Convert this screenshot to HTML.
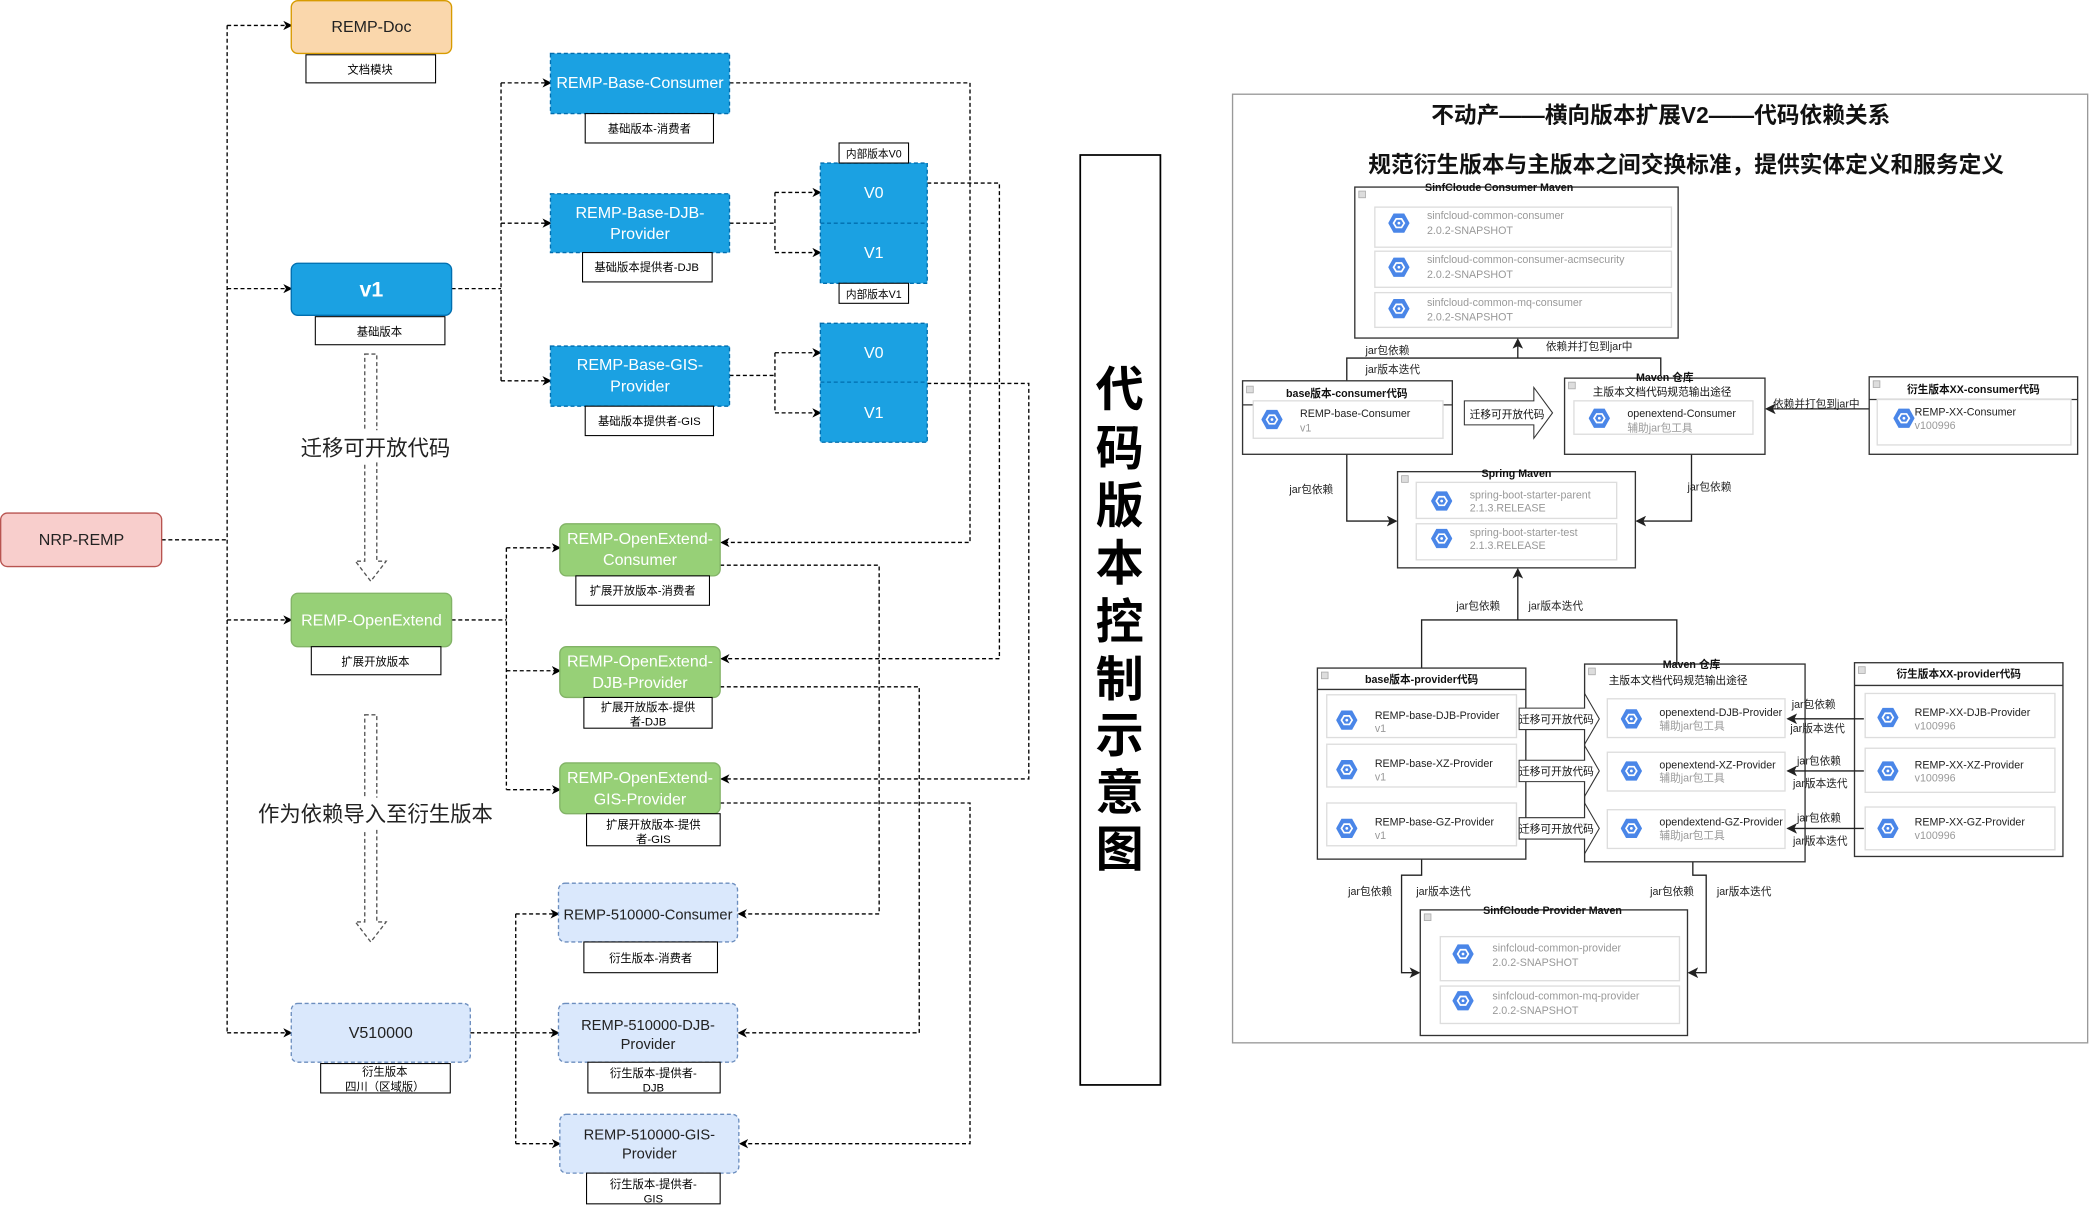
<!DOCTYPE html>
<html><head><meta charset="utf-8"><style>
html,body{margin:0;padding:0;background:#fff;width:2095px;height:1206px;overflow:hidden}
svg{display:block}
text{font-family:"Liberation Sans","Noto Sans CJK SC",sans-serif}
</style></head><body>
<svg width="2095" height="1206" viewBox="0 0 1568 902.6" xmlns="http://www.w3.org/2000/svg">
<defs>
<marker id="a" markerUnits="userSpaceOnUse" markerWidth="7" markerHeight="7" refX="6" refY="3.5" orient="auto"><path d="M0,0 L7,3.5 L0,7 L2,3.5z" fill="#000"/></marker>
<marker id="s" markerUnits="userSpaceOnUse" markerWidth="8" markerHeight="8" refX="7" refY="4" orient="auto"><path d="M0,0 L8,4 L0,8 L2,4z" fill="#222"/></marker>
<symbol id="hx" viewBox="0 0 20 20"><polygon points="5,1 15,1 20,10 15,19 5,19 0,10" fill="#4a86e8"/><polygon points="7.5,6 12.5,6 15,10 12.5,14 7.5,14 5,10" fill="none" stroke="#fff" stroke-width="1.6"/><circle cx="10" cy="10" r="1.3" fill="#fff"/></symbol>
</defs>

<!-- LEFT connectors -->
<g fill="none" stroke="#000" stroke-width="1" stroke-dasharray="3 2">
<path d="M121,404 H170"/><path d="M170,19 V773"/>
<path d="M170,19 H218" marker-end="url(#a)"/><path d="M170,216 H218" marker-end="url(#a)"/><path d="M170,464 H218" marker-end="url(#a)"/><path d="M170,773 H218" marker-end="url(#a)"/>
<path d="M338,216 H375"/><path d="M375,62 V285"/>
<path d="M375,62 H412" marker-end="url(#a)"/><path d="M375,167 H412" marker-end="url(#a)"/><path d="M375,285 H412" marker-end="url(#a)"/>
<path d="M546,167 H580"/><path d="M580,144 V189"/><path d="M580,144 H614" marker-end="url(#a)"/><path d="M580,189 H614" marker-end="url(#a)"/>
<path d="M546,281 H580"/><path d="M580,264 V309"/><path d="M580,264 H614" marker-end="url(#a)"/><path d="M580,309 H614" marker-end="url(#a)"/>
<path d="M546,62 H726 V406 H540" marker-end="url(#a)"/>
<path d="M694,137 H748 V493 H540" marker-end="url(#a)"/>
<path d="M694,287 H770 V583 H540" marker-end="url(#a)"/>
<path d="M338,464 H379"/><path d="M379,410 V591"/>
<path d="M379,410 H419" marker-end="url(#a)"/><path d="M379,502 H419" marker-end="url(#a)"/><path d="M379,591 H419" marker-end="url(#a)"/>
<path d="M539,423 H658 V684 H553" marker-end="url(#a)"/>
<path d="M539,514 H688 V773 H553" marker-end="url(#a)"/>
<path d="M539,601 H726 V856 H554" marker-end="url(#a)"/>
<path d="M352,773 H386"/><path d="M386,684 V856"/>
<path d="M386,684 H418" marker-end="url(#a)"/><path d="M386,773 H418" marker-end="url(#a)"/><path d="M386,856 H419" marker-end="url(#a)"/>
<path d="M273,265 H282 V420 H289 L277.5,435 L266,420 H273 Z" stroke="#555"/>
<path d="M273,535 H282 V690 H289 L277.5,705 L266,690 H273 Z" stroke="#555"/>
</g>

<!-- LEFT nodes -->
<g font-size="12" text-anchor="middle">
<rect x="218" y="0.5" width="120" height="39.5" rx="5" fill="#fad7ac" stroke="#d79b00"/><text x="278" y="24" fill="#222">REMP-Doc</text>
<rect x="218" y="197" width="120" height="39" rx="5" fill="#1ba1e2" stroke="#006eaf"/><text x="278" y="222" fill="#fff" font-size="16" font-weight="bold">v1</text>
<rect x="0.5" y="384" width="120.5" height="40" rx="5" fill="#f8cecc" stroke="#b85450"/><text x="61" y="408" fill="#222">NRP-REMP</text>
<rect x="218" y="444" width="120" height="40" rx="5" fill="#97d077" stroke="#82b366"/><text x="278" y="468" fill="#fff">REMP-OpenExtend</text>
<rect x="218" y="751" width="134" height="44" rx="5" fill="#dae8fc" stroke="#6c8ebf" stroke-dasharray="3 2"/><text x="285" y="777" fill="#222">V510000</text>

<rect x="412" y="40" width="134" height="45" fill="#1ba1e2" stroke="#006eaf" stroke-dasharray="3 2"/><text x="479" y="66" fill="#fff">REMP-Base-Consumer</text>
<rect x="412" y="145" width="134" height="44" fill="#1ba1e2" stroke="#006eaf" stroke-dasharray="3 2"/><text x="479" y="163" fill="#fff">REMP-Base-DJB-</text><text x="479" y="179" fill="#fff">Provider</text>
<rect x="412" y="259" width="134" height="45" fill="#1ba1e2" stroke="#006eaf" stroke-dasharray="3 2"/><text x="479" y="277" fill="#fff">REMP-Base-GIS-</text><text x="479" y="293" fill="#fff">Provider</text>

<rect x="614" y="122" width="80" height="90" fill="#1ba1e2" stroke="#006eaf" stroke-dasharray="3 2"/><line x1="614" y1="167" x2="694" y2="167" stroke="#006eaf" stroke-dasharray="3 2"/>
<text x="654" y="148" fill="#fff">V0</text><text x="654" y="193" fill="#fff">V1</text>
<rect x="614" y="242" width="80" height="89" fill="#1ba1e2" stroke="#006eaf" stroke-dasharray="3 2"/><line x1="614" y1="286" x2="694" y2="286" stroke="#006eaf" stroke-dasharray="3 2"/>
<text x="654" y="268" fill="#fff">V0</text><text x="654" y="313" fill="#fff">V1</text>

<rect x="419" y="392" width="120" height="39" rx="5" fill="#97d077" stroke="#82b366"/><text x="479" y="407" fill="#fff">REMP-OpenExtend-</text><text x="479" y="423" fill="#fff">Consumer</text>
<rect x="419" y="484" width="120" height="38" rx="5" fill="#97d077" stroke="#82b366"/><text x="479" y="499" fill="#fff">REMP-OpenExtend-</text><text x="479" y="515" fill="#fff">DJB-Provider</text>
<rect x="419" y="571" width="120" height="38" rx="5" fill="#97d077" stroke="#82b366"/><text x="479" y="586" fill="#fff">REMP-OpenExtend-</text><text x="479" y="602" fill="#fff">GIS-Provider</text>

<g font-size="11">
<rect x="418" y="661" width="134" height="44" rx="5" fill="#dae8fc" stroke="#6c8ebf" stroke-dasharray="3 2"/><text x="485" y="688" fill="#222">REMP-510000-Consumer</text>
<rect x="418" y="751" width="134" height="44" rx="5" fill="#dae8fc" stroke="#6c8ebf" stroke-dasharray="3 2"/><text x="485" y="771" fill="#222">REMP-510000-DJB-</text><text x="485" y="785" fill="#222">Provider</text>
<rect x="419" y="834" width="134" height="44" rx="5" fill="#dae8fc" stroke="#6c8ebf" stroke-dasharray="3 2"/><text x="486" y="853" fill="#222">REMP-510000-GIS-</text><text x="486" y="867" fill="#222">Provider</text>
</g>
</g>

<!-- LEFT label boxes -->
<g font-size="8.5" text-anchor="middle" fill="#000">
<g fill="#fff" stroke="#000" stroke-width="0.8">
<rect x="229" y="41" width="97" height="21"/><rect x="236" y="237" width="97" height="21"/><rect x="233" y="484" width="97" height="21"/><rect x="240" y="796" width="97" height="22"/>
<rect x="438" y="85" width="96" height="22"/><rect x="436" y="189" width="97" height="22"/><rect x="438" y="304" width="96" height="22"/>
<rect x="628" y="107" width="52" height="15"/><rect x="628" y="212" width="52" height="15"/>
<rect x="431" y="431" width="100" height="22"/><rect x="437" y="522" width="96" height="23"/><rect x="439" y="609" width="100" height="24"/>
<rect x="437" y="705" width="100" height="23"/><rect x="440" y="795" width="99" height="23"/><rect x="439" y="878" width="100" height="23"/>
</g>
<text x="277" y="55">文档模块</text><text x="284" y="251">基础版本</text><text x="281" y="498">扩展开放版本</text>
<text x="288" y="805">衍生版本</text><text x="288" y="816">四川（区域版）</text>
<text x="486" y="99">基础版本-消费者</text><text x="484" y="203">基础版本提供者-DJB</text><text x="486" y="318">基础版本提供者-GIS</text>
<text x="654" y="118" font-size="8">内部版本V0</text><text x="654" y="223" font-size="8">内部版本V1</text>
<text x="481" y="445">扩展开放版本-消费者</text>
<text x="485" y="532">扩展开放版本-提供</text><text x="485" y="543">者-DJB</text>
<text x="489" y="620">扩展开放版本-提供</text><text x="489" y="631">者-GIS</text>
<text x="487" y="720">衍生版本-消费者</text>
<text x="489" y="806">衍生版本-提供者-</text><text x="489" y="817">DJB</text>
<text x="489" y="889">衍生版本-提供者-</text><text x="489" y="900">GIS</text>
</g>

<rect x="222" y="322" width="118" height="24" fill="#fff"/><text x="281" y="341" font-size="16" text-anchor="middle" fill="#222">迁移可开放代码</text>
<rect x="188" y="597" width="186" height="24" fill="#fff"/><text x="281" y="615" font-size="16" text-anchor="middle" fill="#222">作为依赖导入至衍生版本</text>

<!-- vertical title -->
<rect x="808.5" y="116" width="60" height="696" fill="#fff" stroke="#000" stroke-width="1.3"/>
<g font-size="36" font-weight="bold" text-anchor="middle" fill="#000">
<text x="838" y="304">代</text><text x="838" y="348">码</text><text x="838" y="391">版</text><text x="838" y="434">本</text><text x="838" y="478">控</text><text x="838" y="521">制</text><text x="838" y="563">示</text><text x="838" y="606">意</text><text x="838" y="648">图</text>
</g>

<!-- RIGHT screenshot -->
<rect x="922.5" y="70.5" width="640" height="710" fill="#fff" stroke="#999"/>
<g font-weight="bold" text-anchor="middle" fill="#111">
<text x="1243" y="92" font-size="17">不动产——横向版本扩展V2——代码依赖关系</text>
<text x="1262" y="129" font-size="17">规范衍生版本与主版本之间交换标准，提供实体定义和服务定义</text>
</g>

<!-- right connectors -->
<g fill="none" stroke="#222" stroke-width="1">
<path d="M1008,285 V268 H1243 V281"/><path d="M1136,268 V254" marker-end="url(#s)"/>
<path d="M1399,306 H1322" marker-end="url(#s)"/>
<path d="M1008,340 V390 H1045" marker-end="url(#s)"/>
<path d="M1266,340 V390 H1225" marker-end="url(#s)"/>
<path d="M1064,500 V464 H1255 V497"/><path d="M1136,464 V426" marker-end="url(#s)"/>
<path d="M1064,643 V655 H1049 V728 H1062" marker-end="url(#s)"/>
<path d="M1267,645 V655 H1277 V728 H1264" marker-end="url(#s)"/>
</g>

<!-- right boxes -->
<g fill="#fff" stroke="#333" stroke-width="1">
<rect x="1014" y="140" width="242" height="113"/>
<rect x="930" y="285" width="157" height="55"/><line x1="930" y1="303" x2="1087" y2="303"/>
<rect x="1171" y="283" width="150" height="57"/>
<rect x="1399" y="282" width="156" height="58"/><line x1="1399" y1="299" x2="1555" y2="299"/>
<rect x="1046" y="353" width="178" height="72"/>
<rect x="986" y="500" width="156" height="143"/><line x1="986" y1="516" x2="1142" y2="516"/>
<rect x="1186" y="497" width="165" height="148"/>
<rect x="1388" y="496" width="156" height="145"/><line x1="1388" y1="513" x2="1544" y2="513"/>
<rect x="1063" y="681" width="200" height="94"/>
</g>
<g fill="none" stroke="#222" stroke-width="1">
<path d="M1395,538 H1338" marker-end="url(#s)"/><path d="M1395,577 H1338" marker-end="url(#s)"/><path d="M1395,620 H1338" marker-end="url(#s)"/>
</g>
<g fill="#ddd" stroke="#aaa" stroke-width="0.6">
<rect x="1017" y="143" width="5" height="5"/><rect x="933" y="289" width="5" height="5"/><rect x="1174" y="286" width="5" height="5"/><rect x="1402" y="285" width="5" height="5"/><rect x="1049" y="356" width="5" height="5"/><rect x="989" y="503" width="5" height="5"/><rect x="1189" y="500" width="5" height="5"/><rect x="1391" y="499" width="5" height="5"/><rect x="1066" y="684" width="5" height="5"/>
</g>
<g font-size="8" font-weight="bold" text-anchor="middle" fill="#111">
<text x="1122" y="143">SinfCloude Consumer Maven</text>
<text x="1008" y="297">base版本-consumer代码</text>
<text x="1246" y="285">Maven 仓库</text><text x="1244" y="296" font-weight="normal">主版本文档代码规范输出途径</text>
<text x="1477" y="294">衍生版本XX-consumer代码</text>
<text x="1135" y="357">Spring Maven</text>
<text x="1064" y="511">base版本-provider代码</text>
<text x="1266" y="500">Maven 仓库</text><text x="1256" y="512" font-weight="normal">主版本文档代码规范输出途径</text>
<text x="1466" y="507">衍生版本XX-provider代码</text>
<text x="1162" y="684">SinfCloude Provider Maven</text>
</g>

<!-- hollow migrate arrows -->
<g fill="#fff" stroke="#333" stroke-width="0.8">
<path d="M1096,300 H1148 V290 L1162,309 L1148,328 V318 H1096 Z"/>
<path d="M1137,530 H1186 V519 L1197,538 L1186,557 V546 H1137 Z"/>
<path d="M1137,569 H1186 V558 L1197,577 L1186,596 V585 H1137 Z"/>
<path d="M1137,612 H1186 V601 L1197,620 L1186,639 V628 H1137 Z"/>
</g>
<g font-size="8" fill="#111">
<text x="1100" y="313">迁移可开放代码</text>
<text x="1137" y="541">迁移可开放代码</text><text x="1137" y="580">迁移可开放代码</text><text x="1137" y="623">迁移可开放代码</text>
</g>

<!-- items -->
<g fill="#fff" stroke="#ddd" stroke-width="1">
<rect x="1029" y="155" width="222" height="30"/><rect x="1029" y="188" width="222" height="27"/><rect x="1029" y="219" width="222" height="26"/>
<rect x="938" y="300" width="142" height="28"/><rect x="1178" y="300" width="134" height="25"/><rect x="1405" y="299" width="145" height="34"/>
<rect x="1060" y="361" width="150" height="27"/><rect x="1060" y="392" width="150" height="27"/>
<rect x="993" y="520" width="142" height="32"/><rect x="993" y="557" width="142" height="32"/><rect x="993" y="601" width="142" height="32"/>
<rect x="1203" y="523" width="133" height="29"/><rect x="1203" y="563" width="133" height="29"/><rect x="1203" y="606" width="133" height="29"/>
<rect x="1396" y="519" width="142" height="33"/><rect x="1396" y="560" width="142" height="33"/><rect x="1396" y="604" width="142" height="32"/>
<rect x="1078" y="701" width="179" height="33"/><rect x="1078" y="738" width="179" height="28"/>
</g>
<g>
<use href="#hx" x="1039" y="159" width="16" height="16"/><use href="#hx" x="1039" y="192" width="16" height="16"/><use href="#hx" x="1039" y="223" width="16" height="16"/>
<use href="#hx" x="944" y="306" width="16" height="16"/><use href="#hx" x="1189" y="305" width="16" height="16"/><use href="#hx" x="1417" y="305" width="16" height="16"/>
<use href="#hx" x="1071" y="367" width="16" height="16"/><use href="#hx" x="1071" y="395" width="16" height="16"/>
<use href="#hx" x="1000" y="531" width="16" height="16"/><use href="#hx" x="1000" y="568" width="16" height="16"/><use href="#hx" x="1000" y="612" width="16" height="16"/>
<use href="#hx" x="1213" y="530" width="16" height="16"/><use href="#hx" x="1213" y="569" width="16" height="16"/><use href="#hx" x="1213" y="612" width="16" height="16"/>
<use href="#hx" x="1405" y="529" width="16" height="16"/><use href="#hx" x="1405" y="569" width="16" height="16"/><use href="#hx" x="1405" y="612" width="16" height="16"/>
<use href="#hx" x="1087" y="706" width="16" height="16"/><use href="#hx" x="1087" y="741" width="16" height="16"/>
</g>
<g font-size="8">
<g fill="#999">
<text x="1068" y="164">sinfcloud-common-consumer</text><text x="1068" y="175">2.0.2-SNAPSHOT</text>
<text x="1068" y="197">sinfcloud-common-consumer-acmsecurity</text><text x="1068" y="208">2.0.2-SNAPSHOT</text>
<text x="1068" y="229">sinfcloud-common-mq-consumer</text><text x="1068" y="240">2.0.2-SNAPSHOT</text>
<text x="1100" y="373">spring-boot-starter-parent</text><text x="1100" y="383">2.1.3.RELEASE</text>
<text x="1100" y="401">spring-boot-starter-test</text><text x="1100" y="411">2.1.3.RELEASE</text>
<text x="1117" y="712">sinfcloud-common-provider</text><text x="1117" y="723">2.0.2-SNAPSHOT</text>
<text x="1117" y="748">sinfcloud-common-mq-provider</text><text x="1117" y="759">2.0.2-SNAPSHOT</text>
<text x="973" y="323">v1</text><text x="1218" y="323">辅助jar包工具</text><text x="1433" y="321">v100996</text>
<text x="1029" y="548">v1</text><text x="1029" y="584">v1</text><text x="1029" y="628">v1</text>
<text x="1242" y="546">辅助jar包工具</text><text x="1242" y="585">辅助jar包工具</text><text x="1242" y="628">辅助jar包工具</text>
<text x="1433" y="546">v100996</text><text x="1433" y="585">v100996</text><text x="1433" y="628">v100996</text>
</g>
<g fill="#222">
<text x="973" y="312">REMP-base-Consumer</text><text x="1218" y="312">openextend-Consumer</text><text x="1433" y="311">REMP-XX-Consumer</text>
<text x="1029" y="538">REMP-base-DJB-Provider</text><text x="1029" y="574">REMP-base-XZ-Provider</text><text x="1029" y="618">REMP-base-GZ-Provider</text>
<text x="1242" y="536">openextend-DJB-Provider</text><text x="1242" y="575">openextend-XZ-Provider</text><text x="1242" y="618">opendextend-GZ-Provider</text>
<text x="1433" y="536">REMP-XX-DJB-Provider</text><text x="1433" y="575">REMP-XX-XZ-Provider</text><text x="1433" y="618">REMP-XX-GZ-Provider</text>
</g>
</g>

<!-- right connector labels (on top) -->
<g font-size="8" fill="#222">
<text x="1022" y="265">jar包依赖</text><text x="1022" y="279">jar版本迭代</text><text x="1157" y="262">依赖并打包到jar中</text>
<text x="1327" y="305">依赖并打包到jar中</text>
<text x="965" y="369">jar包依赖</text><text x="1263" y="367">jar包依赖</text>
<text x="1090" y="456">jar包依赖</text><text x="1144" y="456">jar版本迭代</text>
<text x="1009" y="670">jar包依赖</text><text x="1060" y="670">jar版本迭代</text>
<text x="1235" y="670">jar包依赖</text><text x="1285" y="670">jar版本迭代</text>
<text x="1341" y="530">jar包依赖</text><text x="1340" y="548">jar版本迭代</text>
<text x="1345" y="572">jar包依赖</text><text x="1342" y="589">jar版本迭代</text>
<text x="1345" y="615">jar包依赖</text><text x="1342" y="632">jar版本迭代</text>
</g>
</svg>
</body></html>
